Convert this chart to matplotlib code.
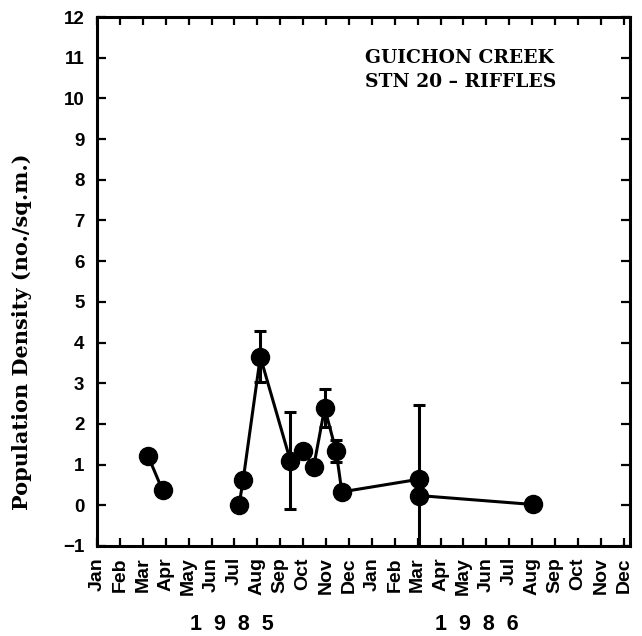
import matplotlib
matplotlib.use("Agg")
import matplotlib.pyplot as plt
import matplotlib.transforms as mtransforms

# ── Data ──────────────────────────────────────────────────────────────────────
# x = months since 1 Jan 1985, y = density (no./sq.m.), err = +/- bar

MONTHS = ["Jan", "Feb", "Mar", "Apr", "May", "Jun",
          "Jul", "Aug", "Sep", "Oct", "Nov", "Dec"] * 2
YEARS = ["1  9  8  5", "1  9  8  6"]
YEAR_POS = [5.87, 16.6]

# spring 1985 run
spring_x = [2.24, 2.86]
spring_y = [1.20, 0.37]

# summer 1985 – summer 1986 run
main_x = [6.20, 6.38, 7.13, 8.44, 8.99, 9.46, 9.94, 10.44, 10.69, 14.05, 14.05, 19.04]
main_y = [0.00, 0.62, 3.65, 1.10, 1.33, 0.95, 2.39, 1.33, 0.33, 0.64, 0.24, 0.02]
main_err = [0.00, 0.10, 0.63, 1.20, 0.15, 0.12, 0.46, 0.27, 0.00, 1.83, 0.00, 0.00]

# ── Figure ────────────────────────────────────────────────────────────────────

W, H = 642, 636
fig = plt.figure(figsize=(W / 100, H / 100), dpi=100, facecolor="white")
ax = fig.add_axes([97 / W, 1 - 546 / H, (630 - 97) / W, (546 - 17) / H])

LW = 2.2
style = dict(color="black", linewidth=LW, marker="o", markersize=13,
             markerfacecolor="black", markeredgecolor="black", zorder=3)

ax.plot(spring_x, spring_y, **style)
ax.errorbar(main_x, main_y, yerr=main_err, capsize=4.5, capthick=LW,
            elinewidth=LW, ecolor="black", **style)

ax.set_xlim(0.07, 23.27)
ax.set_ylim(-1, 12)

ax.set_yticks(range(-1, 13))
ax.set_yticklabels([str(v).replace("-", "\u2212") for v in range(-1, 13)],
                   fontfamily="Liberation Sans", fontweight="bold", fontsize=13.5)
ax.set_xticks(range(len(MONTHS)))
ax.set_xticklabels(MONTHS, rotation=90, fontfamily="Liberation Sans",
                   fontweight="bold", fontsize=14)

ax.tick_params(axis="both", direction="in", top=True, right=True,
               width=1.6, color="black")
ax.tick_params(axis="y", length=6.5, pad=9)
ax.tick_params(axis="x", length=6, pad=8)

for sp in ax.spines.values():
    sp.set_linewidth(LW)
    sp.set_color("black")

# year captions under the month labels
trans = mtransforms.blended_transform_factory(ax.transData, fig.transFigure)
for pos, yr in zip(YEAR_POS, YEARS):
    ax.text(pos, 1 - 625 / H, yr, transform=trans, ha="center", va="center",
            fontfamily="Liberation Sans", fontweight="bold", fontsize=15.5)

fig.text(22 / W, 1 - 332 / H, "Population Density (no./sq.m.)", rotation=90,
         ha="center", va="center", fontfamily="DejaVu Serif",
         fontweight="bold", fontsize=15)

# site caption, placed in pixel coordinates from the top-left corner
px = mtransforms.Affine2D().scale(1, -1).translate(0, H)
ax.text(365, 70, "GUICHON CREEK\nSTN 20 \u2013 RIFFLES", transform=px,
        ha="left", va="center", linespacing=1.4,
        fontfamily="DejaVu Serif", fontweight="bold", fontsize=13.5)

fig.savefig("out.png", dpi=100, facecolor="white")
